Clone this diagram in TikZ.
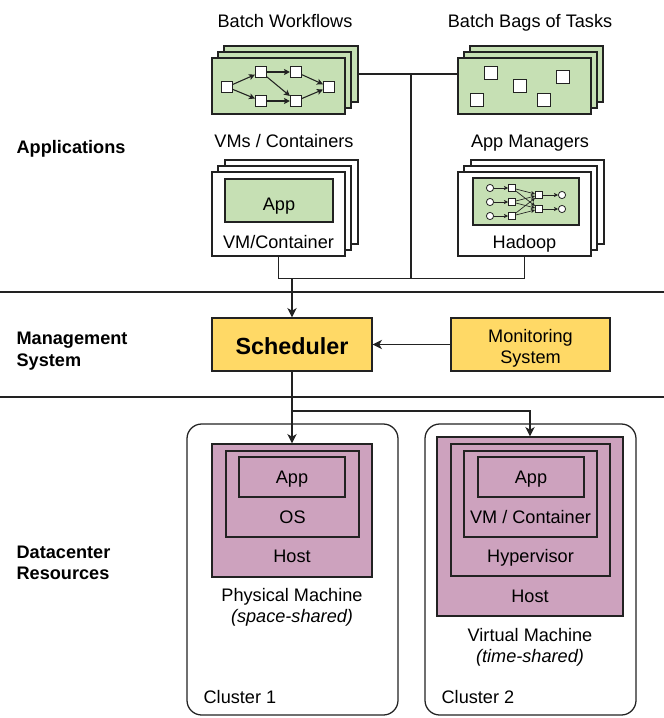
\documentclass[tikz,border=0pt]{standalone}
\usepackage{fontspec}
\setmainfont{Liberation Sans}
\usetikzlibrary{fit,arrows.meta}
\definecolor{cgreen}{HTML}{C6E0B4}
\definecolor{cyellow}{HTML}{FFD966}
\definecolor{cpurple}{HTML}{CDA2BE}
\definecolor{cline}{HTML}{222222}
\begin{document}
\begin{tikzpicture}[x=0.75pt,y=-0.75pt, line width=0.95pt, draw=cline,
  box/.style={draw=cline, inner sep=0pt, line width=0.95pt},
  gbox/.style={box, fill=cgreen},
  wbox/.style={box, fill=white},
  ybox/.style={box, fill=cyellow},
  pbox/.style={box, fill=cpurple},
  pframe/.style={box},
  cluster/.style={box, rounded corners=11pt},
  txt/.style={font=\fontsize{13.6}{16}\selectfont, inner sep=0pt, align=center, text height=9.8pt, text depth=0pt},
  mtxt/.style={font=\fontsize{13.6}{16}\selectfont, inner sep=0pt, align=center},
  ltxt/.style={font=\fontsize{13.6}{16}\selectfont\bfseries, inner sep=0pt, align=left, anchor=west},
  sq/.style={draw=cline, fill=white, minimum size=8.25pt, inner sep=0pt, line width=0.8pt},
  bsq/.style={draw=cline, fill=white, minimum size=9.75pt, inner sep=0pt, line width=0.8pt},
  hsq/.style={draw=cline, fill=white, minimum size=5.4pt, inner sep=0pt, line width=0.6pt},
  hci/.style={circle, draw=cline, fill=white, minimum size=5.4pt, inner sep=0pt, line width=0.6pt},
  arr/.style={-{Stealth[length=7pt,width=7pt,inset=2pt]}},
  sarr/.style={-{Stealth[length=4.5pt,width=4.5pt,inset=1pt]}, line width=0.8pt},
  harr/.style={-{Stealth[length=3pt,width=3pt,inset=0.7pt]}, line width=0.5pt},
  sep/.style={draw=cline, line width=0.95pt}
]
\useasboundingbox (0,0) rectangle (664,718);

% ---------- left labels
\node[ltxt] (lapp) at (16,149) {Applications};
\node[ltxt] (lman) at (16,351) {Management\\System};
\node[ltxt] (ldc) at (16,563) {Datacenter\\Resources};

% ---------- separators
\coordinate (s1a) at (0,292); \coordinate (s1b) at (664,292);
\coordinate (s2a) at (0,397); \coordinate (s2b) at (664,397);
\draw[sep] (s1a) -- (s1b);
\draw[sep] (s2a) -- (s2b);

% ---------- Batch Workflows
\node[txt] (tbw) at (285,21) {Batch Workflows};
\node[gbox, fit={(224,46)(358,102)}] (bw3) {};
\node[gbox, fit={(218,52)(351,108)}] (bw2) {};
\node[gbox, fit={(212,58)(345,114)}] (bw1) {};
\node[sq] (w1) at (227,87) {};
\node[sq] (w2) at (261,72) {};
\node[sq] (w3) at (296,72) {};
\node[sq] (w4) at (261,101) {};
\node[sq] (w5) at (296,101) {};
\node[sq] (w6) at (329,87) {};
\draw[sarr] (w1) -- (w2);
\draw[sarr] (w1) -- (w4);
\draw[sarr] (w2) -- (w3);
\draw[sarr] (w2) -- (w5);
\draw[sarr] (w4) -- (w5);
\draw[sarr] (w3) -- (w6);
\draw[sarr] (w5) -- (w6);

% ---------- Batch Bags of Tasks
\node[txt] (tbb) at (530,21) {Batch Bags of Tasks};
\node[gbox, fit={(470,46)(603,102)}] (bb3) {};
\node[gbox, fit={(464,52)(597,108)}] (bb2) {};
\node[gbox, fit={(458,58)(591,114)}] (bb1) {};
\node[bsq] (b1) at (491,73) {};
\node[bsq] (b2) at (520,86) {};
\node[bsq] (b3) at (563,77) {};
\node[bsq] (b4) at (477,100) {};
\node[bsq] (b5) at (544,100) {};

% ---------- VMs / Containers
\node[txt] (tvm) at (284,141) {VMs / Containers};
\node[wbox, fit={(225,160)(358,244)}] (vm3) {};
\node[wbox, fit={(218,166)(351,250)}] (vm2) {};
\node[wbox, fit={(212,172)(345,256)}] (vm1) {};
\node[gbox, fit={(225,179)(333,222)}] (vmapp) {};
\node[txt] at (279,204) {App};
\node[txt] (tvmc) at (278.5,242) {VM/Container};

% ---------- App Managers / Hadoop
\node[txt] (tam) at (530,141) {App Managers};
\node[wbox, fit={(471,160)(604,244)}] (hd3) {};
\node[wbox, fit={(464,166)(597,250)}] (hd2) {};
\node[wbox, fit={(458,172)(591,256)}] (hd1) {};
\node[gbox, fit={(473,178)(579,225)}] (hdg) {};
\node[txt] (thd) at (524.5,242) {Hadoop};
\node[hci] (c1) at (490,188) {};
\node[hci] (c2) at (490,202) {};
\node[hci] (c3) at (490,216) {};
\node[hsq] (q1) at (512,188) {};
\node[hsq] (q2) at (512,202) {};
\node[hsq] (q3) at (512,216) {};
\node[hsq] (r1) at (539,195) {};
\node[hsq] (r2) at (539,209) {};
\node[hci] (o1) at (562,195) {};
\node[hci] (o2) at (562,209) {};
\foreach \i in {1,2,3} {\draw[harr] (c\i) -- (q\i);}
\foreach \i in {1,2,3} {\foreach \j in {1,2} {\draw[harr] (q\i) -- (r\j);}}
\draw[harr] (r1) -- (o1);
\draw[harr] (r2) -- (o2);

% ---------- application connectors
\coordinate (jt) at (411,73);
\coordinate (jb) at (411,278);
\draw (bw3.east) -- (bb1.west |- bw3.east);
\draw (jt) -- (jb);
\draw (vm1.south) -- ++(0,22) -| (hd1.south);

% ---------- Management
\node[ybox, fit={(212,318)(372,371)}] (sched) {};
\node[font=\fontsize{17.5}{20}\selectfont\bfseries, inner sep=0pt, text height=12.6pt, text depth=0pt] at (292,346) {Scheduler};
\node[ybox, fit={(451,318)(610,371)}] (mon) {};
\node[mtxt, font=\fontsize{13.6}{15.5}\selectfont] at (530.5,348) {Monitoring\\System};
\draw[arr] (sched.north |- jb) -- (sched.north);
\draw[arr] (mon.west) -- (sched.east);

% ---------- Clusters
\node[cluster, fit={(187,424)(398,715)}] (cl1) {};
\node[cluster, fit={(425,424)(636,715)}] (cl2) {};
\node[txt, anchor=west] (tc1) at (203,697) {Cluster 1};
\node[txt, anchor=west] (tc2) at (441,697) {Cluster 2};

% cluster 1 host
\node[pbox, fit={(212,444)(372,577)}] (h1) {};
\node[pframe, fit={(226,451)(359,537)}] (os1) {};
\node[pframe, fit={(239,457)(345,497)}] (app1) {};
\node[txt] at (292,477) {App};
\node[txt] at (292.5,517) {OS};
\node[txt] at (292,556) {Host};
\node[mtxt] (pm) at (292,607.5) {Physical Machine\\\itshape(space-shared)};

% cluster 2 host
\node[pbox, fit={(437,437)(623,616)}] (h2) {};
\node[pframe, fit={(451,444)(610,576)}] (hv2) {};
\node[pframe, fit={(464,451)(597,537)}] (vmc2) {};
\node[pframe, fit={(478,457)(584,497)}] (app2) {};
\node[txt] at (531,477) {App};
\node[txt] at (530.5,517) {VM / Container};
\node[txt] at (530.5,556) {Hypervisor};
\node[txt] at (530,596) {Host};
\node[mtxt] (vmm) at (530,647.5) {Virtual Machine\\\itshape(time-shared)};

% scheduler to clusters
\coordinate (jr) at (293,411);
\draw[arr] (sched.south) -- (h1.north);
\draw[arr] (jr) -| (h2.north);
\end{tikzpicture}
\end{document}
